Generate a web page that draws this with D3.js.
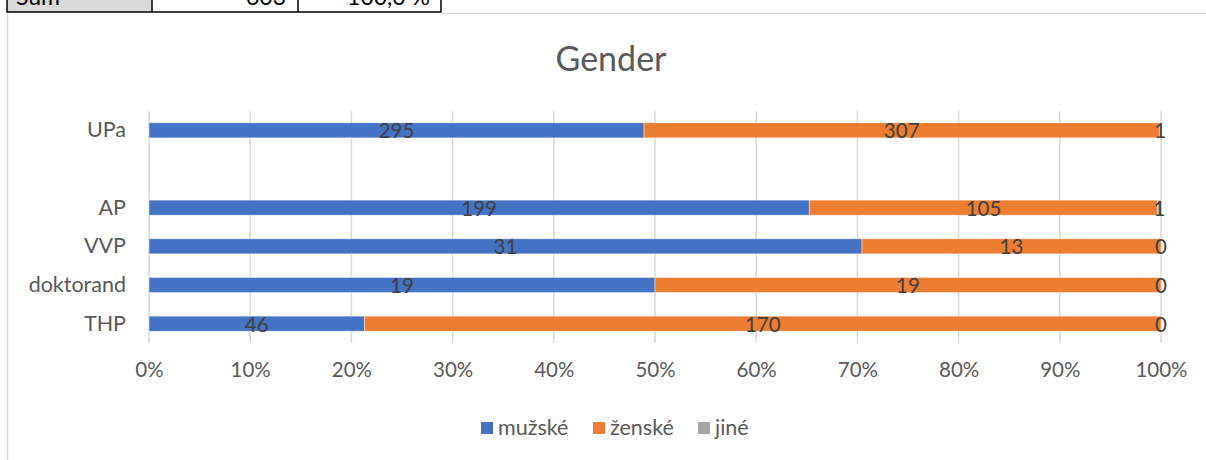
<!DOCTYPE html>
<html>
<head>
<meta charset="utf-8">
<script src="https://cdn.jsdelivr.net/npm/d3@7"></script>
<style>
  html, body { margin: 0; padding: 0; background: #fff; }
  svg { display: block; font-family: Lato, "Open Sans", sans-serif; }
</style>
</head>
<body>
<svg id="chart" width="1206" height="460"></svg>
<script>
// Staff groups, bottom to top; the empty string keeps a spacer row
const categories = ["THP", "doktorand", "VVP", "AP", "", "UPa"];
const male   = [46, 19, 31, 199, null, 295];
const female = [170, 19, 13, 105, null, 307];
const other  = [0, 0, 0, 1, null, 1];
const seriesNames = ["mužské", "ženské", "jiné"];
const seriesColors = ["#4472C4", "#ED7D31", "#A5A5A5"];
const tickValues = [0, 0.1, 0.2, 0.3, 0.4, 0.5, 0.6, 0.7, 0.8, 0.9, 1];

// Summary row of the table above the chart
const tableRow = ["Sum", "603", "100,0 %"];

const svg = d3.select("#chart");

// table fragment at the top edge
const cols = [7, 152, 298, 441];
const tg = svg.append("g");
tg.append("rect").attr("x", cols[0]).attr("y", -20).attr("width", cols[1] - cols[0]).attr("height", 32)
  .attr("fill", "#D9D9D9");
tg.append("path")
  .attr("d", `M${cols[0]},-5V12H${cols[3]}V-5M${cols[1]},-5V12M${cols[2]},-5V12`)
  .attr("fill", "none").attr("stroke", "#000").attr("stroke-width", 1.5);
tg.append("text").attr("x", 16).attr("y", 5).attr("font-size", 23).attr("fill", "#000").text(tableRow[0]);
tg.append("text").attr("x", 286).attr("y", 5).attr("font-size", 23).attr("fill", "#000")
  .attr("text-anchor", "end").text(tableRow[1]);
tg.append("text").attr("x", 430).attr("y", 5).attr("font-size", 23).attr("fill", "#000")
  .attr("text-anchor", "end").text(tableRow[2]);

// chart frame
svg.append("path").attr("d", "M7.5,13V460M441,13.5H1206")
  .attr("fill", "none").attr("stroke", "#D9D9D9").attr("stroke-width", 1.5);

// title
svg.append("text").attr("x", 611).attr("y", 71).attr("text-anchor", "middle")
  .attr("font-size", 34).attr("fill", "#595959").text("Gender");

const x0 = 149, x1 = 1161, yTop = 111, yBot = 343;
const x = d3.scaleLinear().domain([0, 1]).range([x0, x1]);
const y = d3.scaleBand().domain(categories.map((c, i) => i)).range([yBot, yTop]).paddingInner(0.61).paddingOuter(0.305);

// vertical gridlines
svg.append("g").selectAll("line").data(tickValues).join("line")
  .attr("x1", d => x(d)).attr("x2", d => x(d))
  .attr("y1", yTop).attr("y2", yBot)
  .attr("stroke", "#D9D9D9").attr("stroke-width", 1.5);

// x axis labels
const xAxis = d3.axisBottom(x).tickValues(tickValues).tickFormat(d3.format(".0%")).tickSize(0).tickPadding(0);
const ax = svg.append("g").attr("transform", `translate(0,${yBot + 19})`).call(xAxis);
ax.select(".domain").remove();
ax.selectAll("text").attr("font-size", 20.5).attr("fill", "#595959").attr("font-family", "Lato, sans-serif");

// category labels
const yAxis = d3.axisLeft(y).tickFormat(i => categories[i]).tickSize(0).tickPadding(0);
const ay = svg.append("g").attr("transform", `translate(${x0 - 23},0)`).call(yAxis);
ay.select(".domain").remove();
ay.selectAll("text").attr("font-size", 21.5).attr("fill", "#595959").attr("font-family", "Lato, sans-serif");

// stacked percentages
const rows = categories.map((c, i) => ({ i, vals: [male[i], female[i], other[i]] }))
  .filter(r => r.vals[0] !== null);
const segs = [];
rows.forEach(r => {
  const total = d3.sum(r.vals);
  let acc = 0;
  r.vals.forEach((v, k) => {
    segs.push({ i: r.i, k, v, start: acc / total, end: (acc + v) / total });
    acc += v;
  });
});

const bars = svg.append("g");
bars.selectAll("rect").data(segs.filter(s => s.v > 0)).join("rect")
  .attr("x", s => x(s.start)).attr("width", s => x(s.end) - x(s.start))
  .attr("y", s => y(s.i)).attr("height", y.bandwidth())
  .attr("fill", s => seriesColors[s.k])
  .attr("stroke", "#fff").attr("stroke-opacity", 0.6).attr("stroke-width", 0.75);

bars.selectAll("text").data(segs).join("text")
  .attr("x", s => x((s.start + s.end) / 2))
  .attr("y", s => y(s.i) + y.bandwidth() / 2 + 8)
  .attr("text-anchor", "middle").attr("font-size", 20.5).attr("fill", "#404040")
  .text(s => s.v);

// legend
const legendX = [481, 593, 698];
const lg = svg.append("g");
seriesNames.forEach((n, k) => {
  lg.append("rect").attr("x", legendX[k]).attr("y", 422).attr("width", 12).attr("height", 12).attr("fill", seriesColors[k]);
  lg.append("text").attr("x", legendX[k] + 17).attr("y", 435).attr("font-size", 21.5).attr("fill", "#595959").text(n);
});
</script>
</body>
</html>
